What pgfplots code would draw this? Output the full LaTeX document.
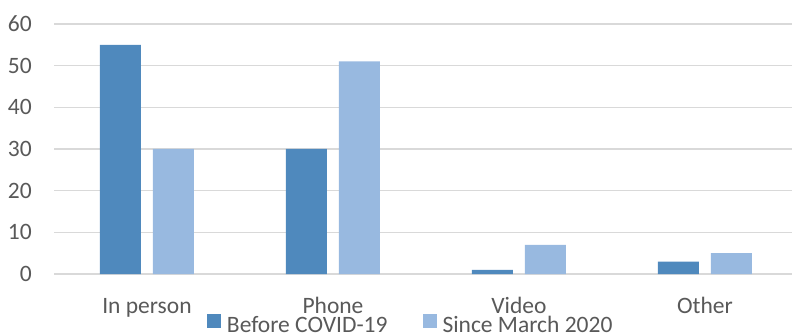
\documentclass[border=0pt]{standalone}
\usepackage{fontspec}
\setmainfont{Carlito}
\usepackage{pgfplots}
\pgfplotsset{compat=1.18}

\definecolor{before}{RGB}{79,137,189}
\definecolor{since}{RGB}{152,185,224}
\definecolor{gridgray}{RGB}{217,217,217}
\definecolor{textgray}{RGB}{89,89,89}

\newcommand{\chartfont}{\fontsize{23.5bp}{28bp}\selectfont}

\begin{document}
\begin{tikzpicture}
\begin{axis}[
  scale only axis,
  width=738bp, height=250bp,
  at={(0,0)}, anchor=south west,
  ymin=0, ymax=60, ytick={0,10,...,60},
  xmin=-0.5, xmax=3.468,
  xtick={0,1,2,3},
  xticklabels={In person, Phone, Video, Other},
  ybar=12bp, bar width=41bp,
  axis line style={draw=none},
  tick style={draw=none},
  major tick length=0pt,
  ymajorgrids,
  grid style={line width=1.5bp, color=gridgray},
  /pgf/number format/assume math mode=true,
  tick label style={font=\chartfont, text=textgray},
  y tick label style={anchor=east, inner sep=0pt, xshift=-22bp},
  x tick label style={anchor=base, inner sep=0pt, yshift=-39bp},
  legend columns=2,
  legend style={
    at={(0.482,-0.158)}, anchor=north,
    draw=none, fill=none, inner sep=0pt,
    font=\chartfont, text=textgray,
    nodes={inner sep=0pt},
    /tikz/every odd column/.append style={column sep=6bp},
    /tikz/every even column/.append style={column sep=35bp},
  },
  legend image code/.code={\fill[#1] (0bp,-3bp) rectangle (14bp,11bp);},
]
\addplot[fill=before, draw=none] coordinates {(0,55) (1,30) (2,1) (3,3)};
\addplot[fill=since, draw=none] coordinates {(0,30) (1,51) (2,7) (3,5)};
\legend{Before COVID-19, Since March 2020}
\end{axis}
\pgfresetboundingbox
\path[use as bounding box] (-54bp,-59bp) rectangle (738bp,274bp);
\end{tikzpicture}
\end{document}
